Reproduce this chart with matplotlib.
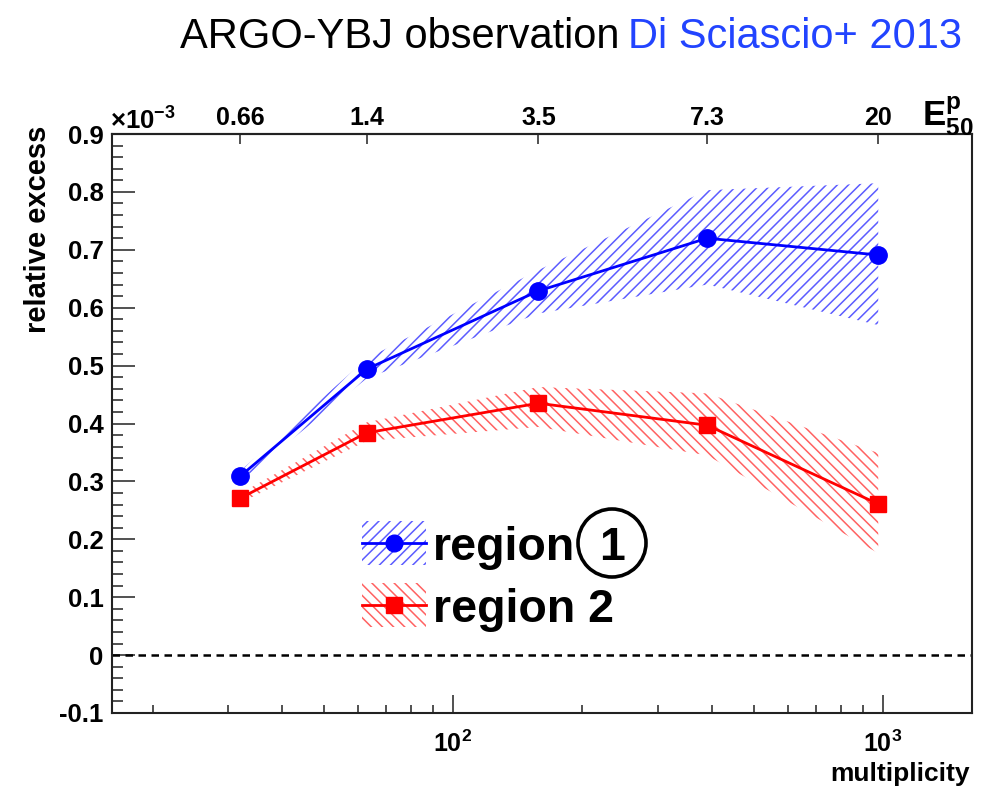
import math
import matplotlib
matplotlib.use("Agg")
import matplotlib.pyplot as plt
from matplotlib.patches import Rectangle, Ellipse
from matplotlib.lines import Line2D
from matplotlib.ticker import FixedLocator, NullFormatter, MultipleLocator, FuncFormatter

plt.rcParams['font.family'] = ['Liberation Sans', 'DejaVu Sans']
plt.rcParams['mathtext.fontset'] = 'custom'
plt.rcParams['mathtext.rm'] = 'Liberation Sans'
plt.rcParams['mathtext.bf'] = 'Liberation Sans:bold'
plt.rcParams['mathtext.it'] = 'Liberation Sans:italic'
plt.rcParams['hatch.linewidth'] = 1.1

# shower multiplicity bins and the corresponding proton median energy (TeV)
multiplicity = [32, 63, 158, 390, 975]
e50_labels = ['0.66', '1.4', '3.5', '7.3', '20']

# relative excess (units of 1e-3) with systematic bands
region1 = [0.309, 0.494, 0.629, 0.720, 0.691]
region1_lo = [0.300, 0.478, 0.590, 0.640, 0.570]
region1_hi = [0.318, 0.512, 0.665, 0.803, 0.815]

region2 = [0.271, 0.384, 0.435, 0.397, 0.261]
region2_lo = [0.263, 0.370, 0.394, 0.345, 0.176]
region2_hi = [0.279, 0.402, 0.463, 0.452, 0.349]

W, H = 1005, 790
fig = plt.figure(figsize=(W / 100, H / 100), dpi=100)


def fx(px):
    return px / W


def fy(py):
    return 1 - py / H


ax = fig.add_axes([fx(112), fy(713), fx(972) - fx(112), fy(134) - fy(713)])
ax.set_xscale('log')
ax.set_xlim(16.1, 1611)
ax.set_ylim(-0.1, 0.9)

BLUE = '#0000ff'
RED = '#ff0000'
BLUE_H = '#5c5cff'
RED_H = '#ff6262'
HATCH_1 = '///'
HATCH_2 = '\\\\\\'

ax.fill_between(multiplicity, region1_lo, region1_hi, facecolor='none',
                edgecolor=BLUE_H, hatch=HATCH_1, linewidth=0, zorder=1)
ax.fill_between(multiplicity, region2_lo, region2_hi, facecolor='none',
                edgecolor=RED_H, hatch=HATCH_2, linewidth=0, zorder=1)

ax.plot(multiplicity, region1, color=BLUE, lw=2.0, marker='o', ms=12.5,
        zorder=3)
ax.plot(multiplicity, region2, color=RED, lw=2.0, marker='s', ms=11.5,
        zorder=3)

ax.axhline(0, color='black', lw=1.8, ls=(0, (3, 2.2)), zorder=2)

# axes frame and ticks in ROOT style
for s in ax.spines.values():
    s.set_linewidth(1.5)
    s.set_color('#222222')

ax.yaxis.set_major_locator(MultipleLocator(0.1))
ax.yaxis.set_minor_locator(MultipleLocator(0.02))
ax.yaxis.set_major_formatter(FuncFormatter(lambda v, p: '0' if abs(v) < 1e-9 else f'{v:.1f}'))
ax.tick_params(axis='y', which='major', direction='in', length=16.5, width=1.2,
               labelsize=18.5, pad=6, right=False, color='#333333')
ax.tick_params(axis='y', which='minor', direction='in', length=8, width=1.2,
               right=False, color='#333333')
for lab in ax.get_yticklabels():
    lab.set_fontweight('bold')

ax.xaxis.set_major_locator(FixedLocator([100, 1000]))
ax.xaxis.set_major_formatter(FuncFormatter(
    lambda v, p: r'$\mathbf{10^{%d}}$' % round(math.log10(v))))
minor = [m * 10 ** d for d in (1, 2, 3) for m in range(2, 10)]
ax.xaxis.set_minor_locator(FixedLocator(minor))
ax.xaxis.set_minor_formatter(NullFormatter())
ax.tick_params(axis='x', which='major', direction='in', length=13, width=1.2,
               labelsize=18, pad=13, top=False, color='#333333')
ax.tick_params(axis='x', which='minor', direction='in', length=6, width=1.2,
               top=False, color='#333333')

# upper axis: median proton energy per bin
top = ax.secondary_xaxis('top')
top.set_xticks(multiplicity)
top.set_xticklabels(e50_labels, fontweight='bold')
top.xaxis.set_minor_locator(FixedLocator([]))
top.tick_params(axis='x', which='major', direction='in', length=7, width=1.2,
                labelsize=18, pad=3, color='#333333')
top.spines['top'].set_linewidth(1.5)
top.spines['top'].set_color('#222222')

fig.text(fx(970), fy(781), 'multiplicity', ha='right', va='baseline',
         fontsize=19, fontweight='bold')
fig.text(fx(38), fy(229), 'relative excess', rotation=90, ha='center',
         va='center', fontsize=21, fontweight='bold')
fig.text(fx(110), fy(130), r'$\mathbf{\times 10^{-3}}$', ha='left',
         va='baseline', fontsize=18.5)
fig.text(fx(922), fy(126), r'$\mathbf{E^{p}_{50}}$', ha='left',
         va='baseline', fontsize=25)

# header
fig.text(fx(180), fy(48), 'ARGO-YBJ observation', ha='left', va='baseline',
         fontsize=30, color='black')
fig.text(fx(962), fy(48), 'Di Sciascio+ 2013', ha='right', va='baseline',
         fontsize=30, color='#2244ff')

# legend
entries = [(543, BLUE, BLUE_H, HATCH_1, 'o'),
           (605, RED, RED_H, HATCH_2, 's')]
for yc, col, hcol, hatch, mk in entries:
    fig.patches.append(Rectangle((fx(362), fy(yc + 22)), fx(426) - fx(362),
                                 fy(yc - 22) - fy(yc + 22),
                                 transform=fig.transFigure, facecolor='none',
                                 edgecolor=hcol, hatch=hatch, linewidth=0))
    fig.lines.append(Line2D([fx(362), fx(426)], [fy(yc), fy(yc)],
                            transform=fig.transFigure, color=col, lw=2.0))
    fig.lines.append(Line2D([fx(394)], [fy(yc)], transform=fig.transFigure,
                            color=col, marker=mk, ms=12 if mk == 'o' else 11))

fig.text(fx(433), fy(543), 'region', ha='left', va='center_baseline',
         fontsize=33.5, fontweight='bold')
fig.text(fx(612), fy(543), '1', ha='center', va='center_baseline',
         fontsize=33.5, fontweight='bold')
fig.text(fx(433), fy(605), 'region 2', ha='left', va='center_baseline',
         fontsize=33.5, fontweight='bold')

fig.patches.append(Ellipse((fx(612), fy(543)), 68 / W, 68 / H,
                           transform=fig.transFigure, facecolor='none',
                           edgecolor='black', linewidth=2.6))

fig.savefig('out.png', dpi=100)
